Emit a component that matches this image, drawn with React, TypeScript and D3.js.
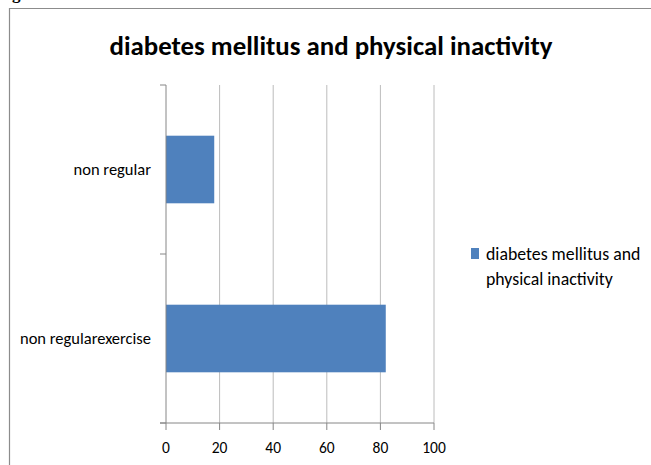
import * as d3 from "d3";
import React from "react";

// chart data
const categories = ["non regular", "non regularexercise"];
const values = [18, 82];
const xTicks = [0, 20, 40, 60, 80, 100];
const title = "diabetes mellitus and physical inactivity";
const legendLines = ["diabetes mellitus and", "physical inactivity"];

const W = 651, H = 465;
const m = { l: 166, r: 434, t: 85, b: 423 };
const font = "Carlito, 'Liberation Sans Narrow', 'Open Sans', sans-serif";
const axisColor = "#868686";
const barColor = "#4f81bd";

const App: React.FC = () => {
  const x = d3.scaleLinear([0, 100], [m.l, m.r]);
  const y = d3.scaleBand(categories, [m.t, m.b]).paddingInner(0.6).paddingOuter(0.3);
  const yEdges = [m.t, (m.t + m.b) / 2, m.b];

  return (
    <svg width={W} height={H} style={{ position: "absolute", left: 0, top: 0, background: "#fff" }}>
      {/* cut-off caption text from the page */}
      <text x={-3} y={-1} fontFamily="'Liberation Serif', serif" fontWeight="bold" fontSize={17}>Figure</text>
      {/* chart frame */}
      <path d={`M9.5,${H} V8.5 H${W}`} fill="none" stroke="#8c8c8c" strokeWidth={1.2} />
      <text x={331} y={55} textAnchor="middle" fontFamily={font} fontWeight="bold" fontSize={26} textLength={443} lengthAdjust="spacingAndGlyphs">{title}</text>

      {xTicks.slice(1).map(t => (
        <line key={"g" + t} x1={x(t)} x2={x(t)} y1={m.t} y2={m.b} stroke="#bcbcbc" />
      ))}
      {categories.map((c, i) => (
        <rect key={c} x={x(0)} y={y(c)} width={x(values[i]) - x(0)} height={y.bandwidth()} fill={barColor} />
      ))}

      {/* y axis */}
      <line x1={m.l} x2={m.l} y1={m.t} y2={m.b} stroke={axisColor} />
      {yEdges.map((v, i) => <line key={"yt" + i} x1={m.l - 6} x2={m.l} y1={v} y2={v} stroke={axisColor} />)}
      {categories.map(c => (
        <text key={"yl" + c} x={151} y={y(c)! + y.bandwidth() / 2 + 5.5} textAnchor="end" fontFamily={font} fontSize={16.5}>{c}</text>
      ))}

      {/* x axis */}
      <line x1={m.l - 6} x2={m.r} y1={m.b} y2={m.b} stroke={axisColor} />
      {xTicks.map(t => (
        <g key={"xt" + t}>
          <line x1={x(t)} x2={x(t)} y1={m.b} y2={m.b + 7} stroke={axisColor} />
          <text x={x(t)} y={453} textAnchor="middle" fontFamily={font} fontSize={15.5}>{t}</text>
        </g>
      ))}

      {/* legend */}
      <rect x={471} y={248} width={8} height={11} fill={barColor} />
      {legendLines.map((l, i) => (
        <text key={l} x={486} y={260 + i * 25} fontFamily={font} fontSize={17.8}>{l}</text>
      ))}
    </svg>
  );
};

export default App;
